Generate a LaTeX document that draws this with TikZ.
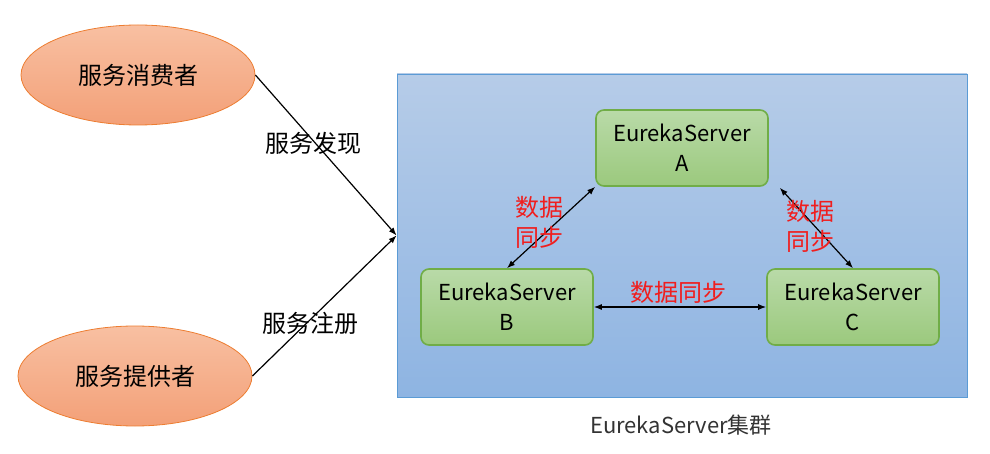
\documentclass[tikz,border=0pt]{standalone}
\usepackage{fontspec}
\setmainfont{Noto Sans CJK SC}
\usetikzlibrary{arrows.meta,positioning,calc,shapes.geometric}
\definecolor{SVC-TOP}{RGB}{248,192,162}
\definecolor{SVC-BOT}{RGB}{243,160,120}
\definecolor{SVC-LINE}{RGB}{237,125,49}
\definecolor{SRV-TOP}{RGB}{185,218,168}
\definecolor{SRV-BOT}{RGB}{155,201,125}
\definecolor{SRV-LINE}{RGB}{112,173,71}
\definecolor{CLU-TOP}{RGB}{182,204,232}
\definecolor{CLU-BOT}{RGB}{142,180,226}
\definecolor{CLU-LINE}{RGB}{91,155,213}
\definecolor{SYNC-RED}{RGB}{240,30,30}

\tikzset{
  svc/.style={ellipse, draw=SVC-LINE, top color=SVC-TOP, bottom color=SVC-BOT,
    minimum width=117pt, minimum height=50pt, font=\fontsize{12}{14}\selectfont},
  srv/.style={rectangle, rounded corners=4pt, draw=SRV-LINE, thick,
    top color=SRV-TOP, bottom color=SRV-BOT, align=center,
    minimum width=86pt, minimum height=38pt, font=\fontsize{11}{15}\selectfont},
  sync/.style={text=SYNC-RED, align=center, font=\fontsize{12}{15}\selectfont},
  link/.style={-{Latex[length=4pt,width=3pt]}, black, semithick},
  dlink/.style={{Latex[length=4pt,width=3pt]}-{Latex[length=4pt,width=3pt]}, black, semithick}
}

\begin{document}
\begin{tikzpicture}[x=0.5pt,y=-0.5pt]
  \useasboundingbox (0,0) rectangle (990,454);

  % EurekaServer cluster (blue box)
  \node[rectangle, draw=CLU-LINE, top color=CLU-TOP, bottom color=CLU-BOT,
    minimum width=285pt, minimum height=161.5pt] (cluster) at (682,235.5) {};
  \node[text=black!80, font=\fontsize{11}{13}\selectfont] (clusterlbl) at (681,425) {EurekaServer集群};

  % Service consumer / provider
  \node[svc] (consumer) at (138,75) {服务消费者};
  \node[svc] (provider) at (135,376) {服务提供者};

  \draw[link] (consumer.east) -- (cluster.west);
  \draw[link] (provider.east) -- (cluster.west);
  \node[font=\fontsize{12}{14}\selectfont] (find) at (313,143) {服务发现};
  \node[font=\fontsize{12}{14}\selectfont] (register) at (310,323) {服务注册};

  % Servers
  \node[srv] (srvA) at (682,148) {EurekaServer\\A};
  \node[srv] (srvB) at (507,307) {EurekaServer\\B};
  \node[srv] (srvC) at (853,307) {EurekaServer\\C};

  % Data sync
  \coordinate (aRight) at ($(srvA.south east)+(11,1)$);
  \draw[dlink] (srvB.north) -- (srvA.south west);
  \draw[dlink] (srvC.north) -- (aRight);
  \draw[dlink] (srvB.east) -- (srvC.west);
  \node[sync] (syncAB) at (539,222) {数据\\同步};
  \node[sync] (syncAC) at (810,226) {数据\\同步};
  \node[sync] (syncBC) at (678,292) {数据同步};
\end{tikzpicture}
\end{document}
